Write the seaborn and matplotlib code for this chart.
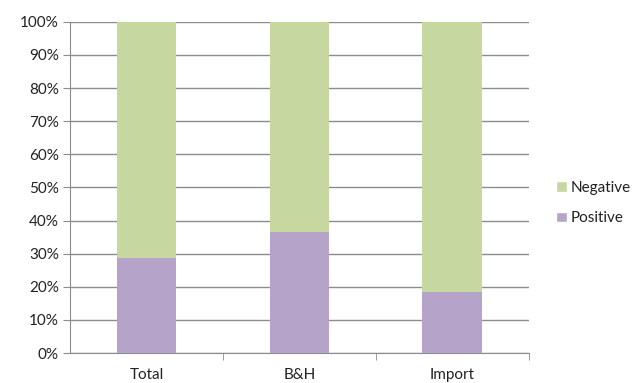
import matplotlib
matplotlib.use("Agg")
import matplotlib.pyplot as plt
from matplotlib.patches import Patch
from matplotlib.ticker import PercentFormatter, FixedLocator
import pandas as pd
import seaborn as sns

categories = ["Total", "B&H", "Import"]
positive = [28.6, 36.5, 18.6]
negative = [71.4, 63.5, 81.4]

green = "#C6D79F"
purple = "#B5A3CA"

sns.set_style("white")
plt.rcParams["font.family"] = ["Lato", "DejaVu Sans"]

df = pd.DataFrame({"cat": categories, "pos": positive, "neg": negative})
df["total"] = df["pos"] + df["neg"]

fig = plt.figure(figsize=(6.37, 3.83), dpi=100)
ax = fig.add_axes([0.110, 0.078, 0.720, 0.865])

sns.barplot(data=df, x="cat", y="total", color=green, width=0.39, saturation=1,
            linewidth=0, ax=ax, zorder=3)
sns.barplot(data=df, x="cat", y="pos", color=purple, width=0.39, saturation=1,
            linewidth=0, ax=ax, zorder=3)

ax.set_xlim(-0.5, 2.5)
ax.set_ylim(0, 100)
ax.set_yticks(range(0, 101, 10))
ax.yaxis.set_major_formatter(PercentFormatter(decimals=0))
ax.yaxis.grid(True, color="#8c8c8c", linewidth=1, zorder=0)
ax.set_axisbelow(True)
ax.set_xlabel("")
ax.set_ylabel("")

for s in ["top", "right"]:
    ax.spines[s].set_visible(False)
ax.spines["left"].set_color("#8c8c8c")
ax.spines["bottom"].set_color("#8c8c8c")

ax.tick_params(axis="y", which="major", left=True, length=5, color="#8c8c8c",
               labelsize=11, pad=3, labelcolor="#222222")
ax.tick_params(axis="x", which="major", bottom=False, length=0, labelsize=11, pad=11,
               labelcolor="#222222")
ax.xaxis.set_minor_locator(FixedLocator([0.5, 1.5, 2.5]))
ax.tick_params(axis="x", which="minor", bottom=True, length=5, color="#8c8c8c")

handles = [Patch(facecolor=green, label="Negative"), Patch(facecolor=purple, label="Positive")]
fig.legend(handles=handles, loc="center left", bbox_to_anchor=(0.851, 0.47), frameon=False,
           handlelength=0.7, handleheight=0.7, handletextpad=0.25, labelspacing=1.1,
           fontsize=11, labelcolor="#222222")

fig.savefig("out.png", dpi=100)
